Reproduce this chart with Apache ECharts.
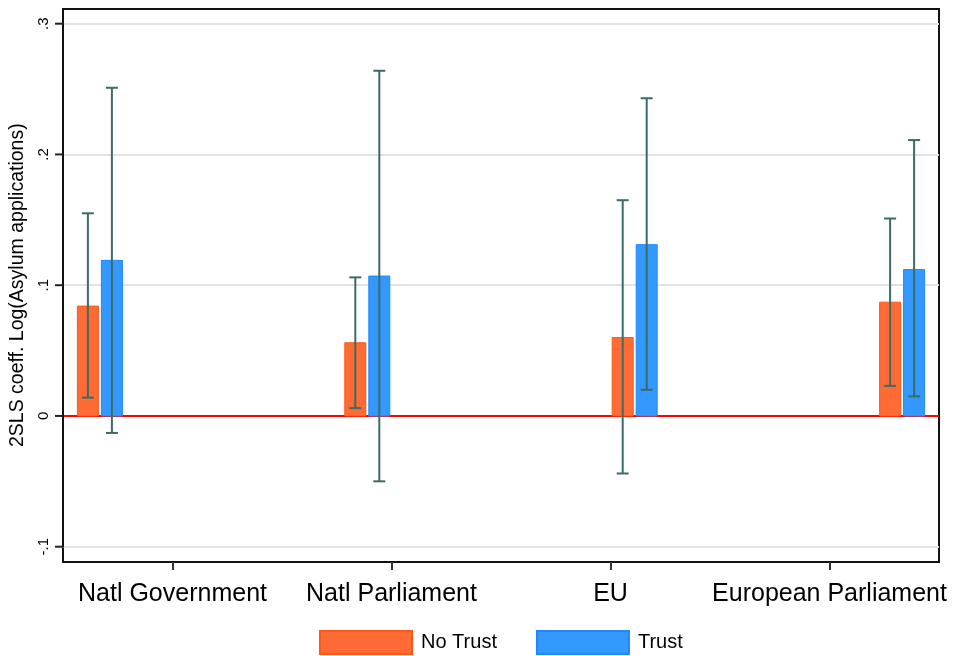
<!DOCTYPE html>
<html>
<head>
<meta charset="utf-8">
<script src="https://cdn.jsdelivr.net/npm/echarts@6/dist/echarts.min.js"></script>
<style>html,body{margin:0;padding:0;background:#fff}#c{width:953px;height:656px}</style>
</head>
<body>
<div id="c"></div>
<script>
const categories = ['Natl Government', 'Natl Parliament', 'EU', 'European Parliament'];
const noTrust   = [0.084, 0.056, 0.060, 0.087];
const noTrustLo = [0.014, 0.006, -0.044, 0.023];
const noTrustHi = [0.155, 0.106, 0.165, 0.151];
const trust     = [0.119, 0.107, 0.131, 0.112];
const trustLo   = [-0.013, -0.050, 0.020, 0.015];
const trustHi   = [0.251, 0.264, 0.243, 0.211];
const yTicks    = [-0.1, 0, 0.1, 0.2, 0.3];

const X_MIN = -0.138, X_MAX = 3.138;
const ORANGE = '#FF6B35', ORANGE_B = '#FF5714';
const BLUE = '#3399FF', BLUE_B = '#1F87FF';
const ERR = '#3B6C65';
const BAR_W = 21, OFF = 12;

function barRender(offset) {
  return function (params, api) {
    const i = api.value(0), v = api.value(1);
    const p = api.coord([i, v]);
    const z = api.coord([i, 0]);
    const x = p[0] + offset - BAR_W / 2;
    return {
      type: 'rect',
      shape: { x: x, y: Math.min(p[1], z[1]), width: BAR_W, height: Math.abs(z[1] - p[1]) },
      style: api.style()
    };
  };
}
function errRender(offset) {
  return function (params, api) {
    const i = api.value(0);
    const lo = api.coord([i, api.value(1)]);
    const hi = api.coord([i, api.value(2)]);
    const x = lo[0] + offset;
    const cw = 6;
    const st = { stroke: ERR, lineWidth: 2 };
    return {
      type: 'group',
      children: [
        { type: 'line', shape: { x1: x, y1: lo[1], x2: x, y2: hi[1] }, style: st },
        { type: 'line', shape: { x1: x - cw, y1: lo[1], x2: x + cw, y2: lo[1] }, style: st },
        { type: 'line', shape: { x1: x - cw, y1: hi[1], x2: x + cw, y2: hi[1] }, style: st }
      ]
    };
  };
}
function tickRender(params, api) {
  const p = api.coord([X_MIN, api.value(0)]);
  return {
    type: 'line',
    shape: { x1: p[0] - 8, y1: p[1], x2: p[0], y2: p[1] },
    style: { stroke: '#222', lineWidth: 2 }
  };
}
function fmt(v) {
  if (Math.abs(v) < 1e-9) return '0';
  const s = Math.abs(v).toFixed(1).replace(/^0/, '');
  return (v < 0 ? '-' : '') + s;
}

const chart = echarts.init(document.getElementById('c'), null, { renderer: 'canvas' });
chart.setOption({
  animation: false,
  backgroundColor: '#fff',
  textStyle: { fontFamily: 'Liberation Sans, Arial, sans-serif' },
  grid: [
    { left: 63, right: 14, top: 9, bottom: 94, show: true, borderColor: '#111', borderWidth: 2, backgroundColor: 'transparent' },
    { left: 63, right: 14, top: 23.7, bottom: 109.3 }
  ],
  xAxis: [
    {
      gridIndex: 0, type: 'category', data: categories, boundaryGap: true,
      axisLine: { show: true, lineStyle: { color: '#111', width: 2 } },
      axisTick: { show: true, alignWithLabel: true, length: 8, lineStyle: { color: '#333', width: 2 } },
      axisLabel: { color: '#000', fontSize: 25, margin: 20, interval: 0 },
      splitLine: { show: false }
    },
    { gridIndex: 1, type: 'value', min: X_MIN, max: X_MAX, show: false }
  ],
  yAxis: [
    { gridIndex: 0, type: 'value', min: 0, max: 1, show: false },
    {
      gridIndex: 1, type: 'value', min: -0.1, max: 0.3, interval: 0.1, position: 'left',
      name: '2SLS coeff. Log(Asylum applications)', nameLocation: 'middle', nameGap: 31,
      nameTextStyle: { color: '#000', fontSize: 19.5 },
      axisLine: { show: true, onZero: false, lineStyle: { color: '#111', width: 2 } },
      axisTick: { show: false },
      axisLabel: { color: '#000', fontSize: 15, rotate: 90, margin: 12, formatter: fmt },
      splitLine: { show: true, lineStyle: { color: ['#E3E3E3', '#FF0000', '#E3E3E3', '#E3E3E3', '#E3E3E3'], width: 2 } }
    }
  ],
  legend: {
    left: 314, top: 625, itemWidth: 92, itemHeight: 23, itemGap: 39,
    icon: 'rect', textStyle: { color: '#000', fontSize: 20, padding: [0, 0, 0, 4] },
    data: ['No Trust', 'Trust']
  },
  series: [
    {
      name: 'No Trust', type: 'custom', xAxisIndex: 1, yAxisIndex: 1,
      itemStyle: { color: ORANGE, borderColor: ORANGE_B, borderWidth: 1 },
      renderItem: barRender(-OFF),
      data: noTrust.map((v, i) => [i, v])
    },
    {
      name: 'Trust', type: 'custom', xAxisIndex: 1, yAxisIndex: 1,
      itemStyle: { color: BLUE, borderColor: BLUE_B, borderWidth: 1 },
      renderItem: barRender(OFF),
      data: trust.map((v, i) => [i, v])
    },
    {
      name: 'errNo', type: 'custom', xAxisIndex: 1, yAxisIndex: 1, z: 5,
      renderItem: errRender(-OFF),
      data: noTrustLo.map((v, i) => [i, v, noTrustHi[i]])
    },
    {
      name: 'errTrust', type: 'custom', xAxisIndex: 1, yAxisIndex: 1, z: 5,
      renderItem: errRender(OFF),
      data: trustLo.map((v, i) => [i, v, trustHi[i]])
    },
    {
      name: 'yTicks', type: 'custom', xAxisIndex: 1, yAxisIndex: 1, clip: false, silent: true, z: 10,
      encode: { y: 0 },
      renderItem: tickRender,
      data: yTicks.map(v => [v])
    }
  ]
});
</script>
</body>
</html>
